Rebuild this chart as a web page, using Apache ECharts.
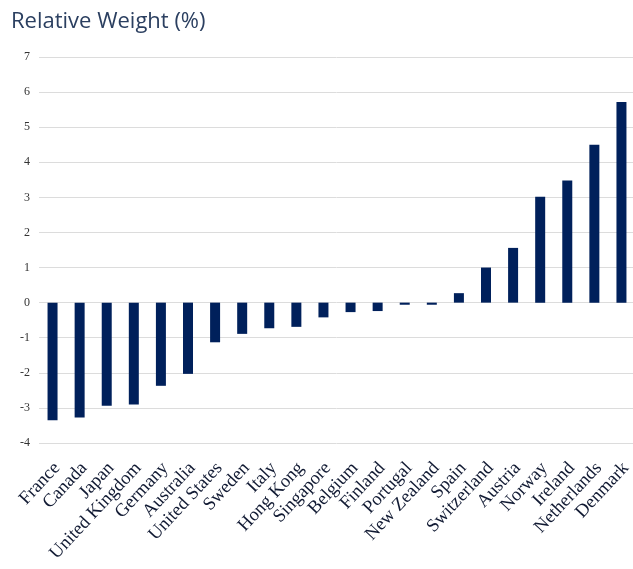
<!DOCTYPE html>
<html><head><meta charset="utf-8">
<script src="https://cdn.jsdelivr.net/npm/echarts@6/dist/echarts.min.js"></script>
<style>html,body{margin:0;padding:0;background:#fff}#c{width:633px;height:569px}</style>
</head><body><div id="c"></div>
<script>
const categories = ["France","Canada","Japan","United Kingdom","Germany","Australia","United States","Sweden","Italy","Hong Kong","Singapore","Belgium","Finland","Portugal","New Zealand","Spain","Switzerland","Austria","Norway","Ireland","Netherlands","Denmark"];
const relativeWeight = [-3.35,-3.27,-2.94,-2.9,-2.37,-2.03,-1.13,-0.89,-0.73,-0.69,-0.42,-0.27,-0.24,-0.06,-0.06,0.27,1.0,1.56,3.02,3.48,4.5,5.72];
const yTicks = {min:-4, max:7, interval:1};

const chart = echarts.init(document.getElementById('c'));
chart.setOption({
  animation:false,
  title:{text:'Relative Weight (%)', left:6, top:6,
    textStyle:{fontFamily:'Open Sans', fontSize:22, fontWeight:'normal', color:'#2b3f60'}},
  grid:{left:39, right:-2, top:57, bottom:126, containLabel:false, outerBoundsMode:'none'},
  xAxis:{type:'category', data:categories,
    axisLine:{show:false}, axisTick:{show:false},
    axisLabel:{rotate:47, interval:0, margin:18, verticalAlign:'top', lineHeight:12, fontFamily:'Liberation Serif', fontSize:18.5, color:'#111a33'}},
  yAxis:{type:'value', min:yTicks.min, max:yTicks.max, interval:yTicks.interval,
    axisLine:{show:false}, axisTick:{show:false},
    axisLabel:{fontFamily:'Liberation Serif', fontSize:12, color:'#333', margin:9},
    splitLine:{lineStyle:{color:'#dcdcdc', width:1}}},
  series:[{type:'bar', data:relativeWeight, barWidth:10,
    itemStyle:{color:'#00205b'}}]
});
</script></body></html>
